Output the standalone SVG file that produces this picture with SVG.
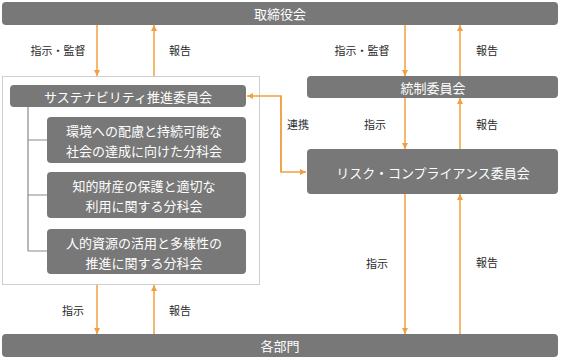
<svg xmlns="http://www.w3.org/2000/svg" width="561" height="359" viewBox="0 0 561 359">
<defs>
<style>
.bar{fill:#787878}
.wt{fill:#fff;font-family:"Noto Sans CJK JP",sans-serif;font-size:13px;text-anchor:middle;dominant-baseline:central}
.lb{fill:#2a2a2a;font-family:"Noto Sans CJK JP",sans-serif;font-size:11px;text-anchor:middle;dominant-baseline:central}
.ar{stroke:#f0a040;stroke-width:1.5;fill:none}
.tr{stroke:#8a8a8a;stroke-width:1.2;fill:none}
</style>
<marker id="ah" viewBox="0 0 10 10" refX="10" refY="5" markerWidth="6" markerHeight="6" markerUnits="userSpaceOnUse" orient="auto">
<path d="M0,0 L10,5 L0,10 z" fill="#f0a040"/>
</marker>
</defs>
<rect width="561" height="359" fill="#fff"/>
<g id="group-box">
<rect x="2.5" y="76.5" width="257" height="208" fill="#fff" stroke="#cfcfcf" stroke-width="1"/>
</g>
<g id="board">
<rect class="bar" x="2" y="2" width="556" height="23" rx="4"/>
<text class="wt" x="280" y="13.5">取締役会</text>
</g>
<g id="sustainability">
<rect class="bar" x="10" y="85" width="236" height="22" rx="4"/>
<text class="wt" x="128" y="96">サステナビリティ推進委員会</text>
</g>
<g id="tree">
<path class="tr" d="M28,107 V251 M28,140 H47 M28,195 H47 M28,251 H47"/>
</g>
<g id="sub1">
<rect class="bar" x="47" y="117" width="199" height="46" rx="4"/>
<text class="wt" x="144" y="130">環境への配慮と持続可能な</text>
<text class="wt" x="144" y="150">社会の達成に向けた分科会</text>
</g>
<g id="sub2">
<rect class="bar" x="47" y="172" width="199" height="46" rx="4"/>
<text class="wt" x="144" y="185">知的財産の保護と適切な</text>
<text class="wt" x="144" y="205">利用に関する分科会</text>
</g>
<g id="sub3">
<rect class="bar" x="47" y="229" width="199" height="45" rx="4"/>
<text class="wt" x="144" y="242">人的資源の活用と多様性の</text>
<text class="wt" x="144" y="262">推進に関する分科会</text>
</g>
<g id="control">
<rect class="bar" x="307" y="76" width="251" height="22" rx="4"/>
<text class="wt" x="433" y="87">統制委員会</text>
</g>
<g id="risk">
<rect class="bar" x="307" y="149" width="251" height="45" rx="4"/>
<text class="wt" x="433" y="172">リスク・コンプライアンス委員会</text>
</g>
<g id="departments">
<rect class="bar" x="2" y="334" width="556" height="23" rx="4"/>
<text class="wt" x="280" y="345.5">各部門</text>
</g>
<g id="connectors">
<line class="ar" x1="97" y1="25" x2="97" y2="76" marker-end="url(#ah)"/>
<line class="ar" x1="154" y1="76" x2="154" y2="25" marker-end="url(#ah)"/>
<line class="ar" x1="405" y1="25" x2="405" y2="76" marker-end="url(#ah)"/>
<line class="ar" x1="460" y1="76" x2="460" y2="25" marker-end="url(#ah)"/>
<line class="ar" x1="405" y1="98" x2="405" y2="149" marker-end="url(#ah)"/>
<line class="ar" x1="460" y1="149" x2="460" y2="98" marker-end="url(#ah)"/>
<line class="ar" x1="405" y1="194" x2="405" y2="334" marker-end="url(#ah)"/>
<line class="ar" x1="460" y1="334" x2="460" y2="194" marker-end="url(#ah)"/>
<line class="ar" x1="97" y1="285" x2="97" y2="334" marker-end="url(#ah)"/>
<line class="ar" x1="154" y1="334" x2="154" y2="285" marker-end="url(#ah)"/>
<path class="ar" d="M281,172 V96 H247" marker-end="url(#ah)"/>
<path class="ar" d="M281,96 V172 H306" marker-end="url(#ah)"/>
<text class="lb" x="58" y="50">指示・監督</text>
<text class="lb" x="180" y="50">報告</text>
<text class="lb" x="362" y="50">指示・監督</text>
<text class="lb" x="487" y="50">報告</text>
<text class="lb" x="298" y="124">連携</text>
<text class="lb" x="375" y="124">指示</text>
<text class="lb" x="487" y="124">報告</text>
<text class="lb" x="377" y="263">指示</text>
<text class="lb" x="487" y="262">報告</text>
<text class="lb" x="73" y="310">指示</text>
<text class="lb" x="180" y="310">報告</text>
</g>
</svg>
